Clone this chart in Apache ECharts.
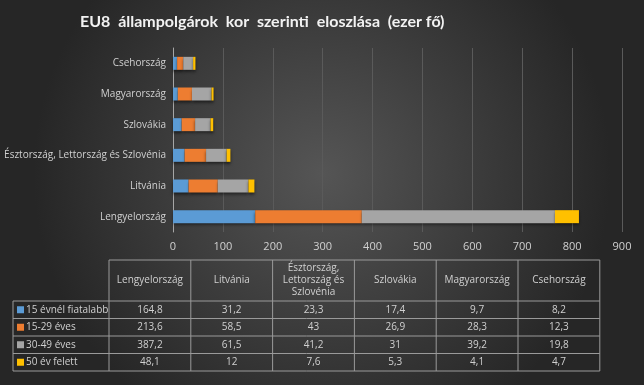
<!DOCTYPE html>
<html><head><meta charset="utf-8">
<script src="https://cdn.jsdelivr.net/npm/echarts@6/dist/echarts.min.js"></script>
<style>html,body{margin:0;padding:0;background:#333;}#c{width:644px;height:385px;}</style>
</head><body><div id="c"></div>
<script>
const categories = ['Lengyelország','Litvánia','Észtország, Lettország és Szlovénia','Szlovákia','Magyarország','Csehország'];
const tableHeaders = ['Lengyelország','Litvánia','Észtország,\nLettország és\nSzlovénia','Szlovákia','Magyarország','Csehország'];
const seriesNames = ['15 évnél fiatalabb','15-29 éves','30-49 éves','50 év felett'];
const under15 = [164.8, 31.2, 23.3, 17.4, 9.7, 8.2];
const age15_29 = [213.6, 58.5, 43, 26.9, 28.3, 12.3];
const age30_49 = [387.2, 61.5, 41.2, 31, 39.2, 19.8];
const over50 = [48.1, 12, 7.6, 5.3, 4.1, 4.7];
const xTicks = [0,100,200,300,400,500,600,700,800,900];

const colors = ['#5b9bd5','#ed7d31','#a5a5a5','#ffc000'];
const allSeries = [under15, age15_29, age30_49, over50];
const fmt = v => String(v).replace('.', ',');

const chart = echarts.init(document.getElementById('c'));
const FONT = 'Open Sans';
const textCol = '#d0d0d0';
const lineCol = '#9a9a9a';

const tLeft = 13, legRight = 109, colW = 81.8, hTop = 260, hBot = 301, rowH = 17.5;
const graphics = [];
const nCols = tableHeaders.length;
const tRight = legRight + colW * nCols;
const tBottom = hBot + rowH * seriesNames.length;
graphics.push({type:'line', shape:{x1:legRight,y1:hTop,x2:tRight,y2:hTop}, style:{stroke:lineCol,lineWidth:1}});
for (let i=0;i<=nCols;i++){
  const x = legRight + colW*i;
  graphics.push({type:'line', shape:{x1:x,y1:hTop,x2:x,y2:tBottom}, style:{stroke:lineCol,lineWidth:1}});
}
graphics.push({type:'line', shape:{x1:tLeft,y1:hBot,x2:tLeft,y2:tBottom}, style:{stroke:lineCol,lineWidth:1}});
for (let r=0;r<=seriesNames.length;r++){
  const y = hBot + rowH*r;
  graphics.push({type:'line', shape:{x1:tLeft,y1:y,x2:tRight,y2:y}, style:{stroke:lineCol,lineWidth:1}});
}
tableHeaders.forEach((h,i)=>{
  graphics.push({type:'text', x: legRight + colW*i + colW/2, y:(hTop+hBot)/2,
    style:{text:h, fill:textCol, font:'10px "'+FONT+'"', align:'center', verticalAlign:'middle', lineHeight:12}});
});
seriesNames.forEach((n,r)=>{
  const yc = hBot + rowH*r + rowH/2;
  graphics.push({type:'rect', shape:{x:tLeft+4, y:yc-3.5, width:7, height:7}, style:{fill:colors[r]}});
  graphics.push({type:'text', x:tLeft+13, y:yc, style:{text:n, fill:textCol, font:'10px "'+FONT+'"', align:'left', verticalAlign:'middle'}});
  allSeries[r].forEach((v,i)=>{
    graphics.push({type:'text', x: legRight + colW*i + colW/2, y:yc,
      style:{text:fmt(v), fill:textCol, font:'10px "'+FONT+'"', align:'center', verticalAlign:'middle'}});
  });
});

chart.setOption({
  backgroundColor: {type:'radial', x:0.5, y:0.45, r:0.75, colorStops:[{offset:0,color:'#555555'},{offset:1,color:'#262626'}]},
  title: {text:'EU8  állampolgárok  kor  szerinti  eloszlása  (ezer fő)', left:75, top:9,
    textStyle:{color:'#f2f2f2', fontSize:16, fontWeight:'bold', fontFamily:'Lato'}},
  grid: {left:173, right:22, top:48, bottom:153, containLabel:false},
  xAxis: {type:'value', min:0, max:900, interval:100,
    axisLine:{show:false}, axisTick:{show:false},
    splitLine:{lineStyle:{color:'#5a5a5a', width:1}},
    axisLabel:{color:textCol, fontSize:11, fontFamily:FONT, margin:9,
      formatter: v => xTicks.includes(v) ? String(v) : ''}},
  yAxis: {type:'category', data:categories,
    axisLine:{show:true, lineStyle:{color:'#a6a6a6'}}, axisTick:{show:false},
    axisLabel:{color:textCol, fontSize:10, fontFamily:FONT, margin:7}},
  series: allSeries.map((d,i)=>({
    name:seriesNames[i], type:'bar', stack:'a', data:d, barWidth:13,
    itemStyle:{color:colors[i], shadowColor:'rgba(0,0,0,0.55)', shadowBlur:3, shadowOffsetY:2},
    animation:false
  })),
  graphic: graphics,
  animation:false
});
</script></body></html>
